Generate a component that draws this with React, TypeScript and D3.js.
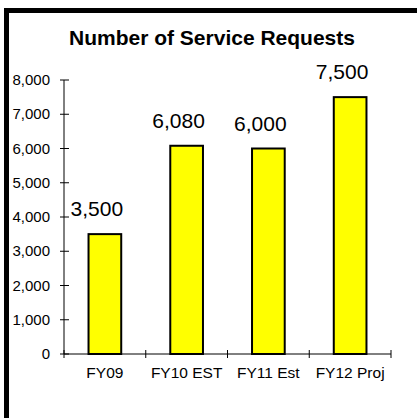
import React from "react";
import * as d3 from "d3";

const categories = ["FY09", "FY10 EST", "FY11 Est", "FY12 Proj"];
const values = [3500, 6080, 6000, 7500];
const yTicks = [0, 1000, 2000, 3000, 4000, 5000, 6000, 7000, 8000];
const title = "Number of Service Requests";

export default function App() {
  const W = 417, H = 418;
  const x0 = 64, x1 = 391, yBottom = 354, yTop = 80;
  const x = d3.scaleBand<string>().domain(categories).range([x0, x1]).paddingInner(0.6).paddingOuter(0.3);
  const y = d3.scaleLinear().domain([0, 8000]).range([yBottom, yTop]);
  const fmt = d3.format(",");
  const font = "Arial, 'Liberation Sans', sans-serif";
  const boundaries = d3.range(categories.length + 1).map((i) => x0 + i * (x1 - x0) / categories.length);

  return (
    <svg width={W} height={H} style={{ position: "absolute", left: 0, top: 0, background: "#fff" }} fontFamily={font}>
      <rect x={0} y={0} width={W} height={H} fill="#fff" />
      <path d={`M6.5,${H} V10.5 H${W}`} fill="none" stroke="#000" strokeWidth={5} />
      <text x={212} y={45} textAnchor="middle" fontSize={21} fontWeight="bold" fill="#000">{title}</text>
      {/* y axis */}
      <line x1={x0} x2={x0} y1={y(8000)} y2={yBottom} stroke="#000" strokeWidth={1} />
      {yTicks.map((t) => (
        <g key={t}>
          <line x1={x0 - 4} x2={x0 + 5} y1={y(t)} y2={y(t)} stroke="#000" strokeWidth={1} />
          <text x={50} y={y(t) + 5} textAnchor="end" fontSize={15} fill="#000">{fmt(t)}</text>
        </g>
      ))}
      {/* bars */}
      {categories.map((c, i) => (
        <rect key={c} x={x(c)!} y={y(values[i])} width={x.bandwidth()} height={yBottom - y(values[i])}
          fill="#ffff00" stroke="#000" strokeWidth={2} />
      ))}
      {/* x axis */}
      <line x1={x0} x2={x1} y1={yBottom} y2={yBottom} stroke="#000" strokeWidth={1} />
      {boundaries.map((b, i) => (
        <line key={i} x1={b} x2={b} y1={yBottom - 4} y2={yBottom + 4} stroke="#000" strokeWidth={1} />
      ))}
      {categories.map((c) => (
        <text key={c} x={x(c)! + x.bandwidth() / 2} y={378} textAnchor="middle" fontSize={15.5} fill="#000">{c}</text>
      ))}
      {/* value labels */}
      {categories.map((c, i) => (
        <text key={c} x={x(c)! + x.bandwidth() / 2 - 8} y={y(values[i]) - 18} textAnchor="middle" fontSize={21} fill="#000">{fmt(values[i])}</text>
      ))}
    </svg>
  );
}
